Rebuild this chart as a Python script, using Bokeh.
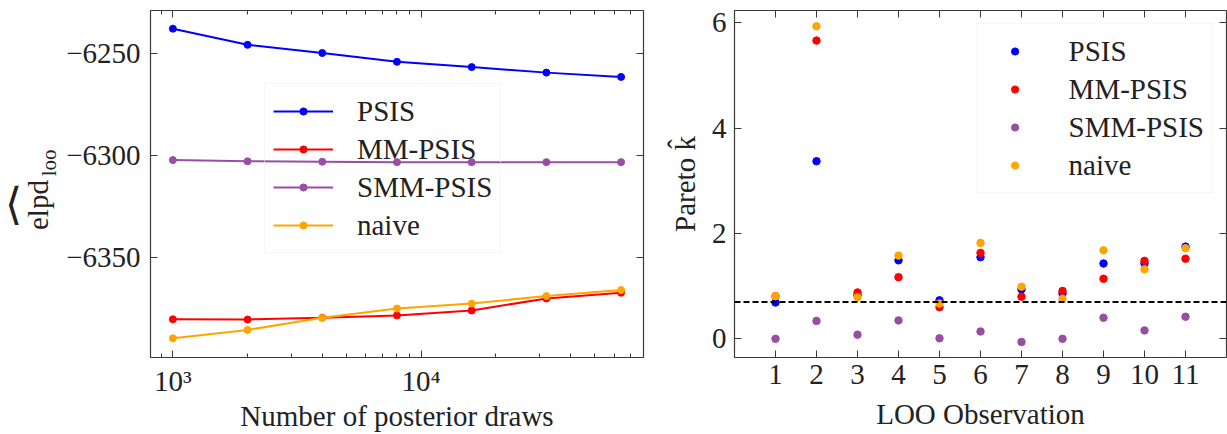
import math
from bokeh.plotting import figure
from bokeh.models import (LinearAxis, LogAxis, Span, Label, Legend, LegendItem,
                          FixedTicker, Range1d)
from bokeh.layouts import row
from bokeh.embed import file_html
from bokeh.resources import INLINE

# ---------------- data ----------------
SERIES = ["PSIS", "MM-PSIS", "SMM-PSIS", "naive"]
COLORS = ["#0000ff", "#ff0000", "#984ea3", "#ffa500"]

DRAWS = [1000, 2000, 4000, 8000, 16000, 32000, 64000]
ELPD_PSIS = [-6238.1, -6246.0, -6250.0, -6254.3, -6256.9, -6259.6, -6261.7]
ELPD_MM = [-6380.3, -6380.4, -6379.5, -6378.4, -6376.0, -6370.1, -6367.3]
ELPD_SMM = [-6302.4, -6303.0, -6303.2, -6303.4, -6303.4, -6303.4, -6303.4]
ELPD_NAIVE = [-6389.6, -6385.5, -6379.6, -6375.0, -6372.6, -6368.9, -6366.0]

OBS = [1, 2, 3, 4, 5, 6, 7, 8, 9, 10, 11]
K_PSIS = [0.69, 3.37, 0.83, 1.49, 0.73, 1.55, 0.94, 0.86, 1.43, 1.43, 1.75]
K_MM = [0.81, 5.66, 0.88, 1.17, 0.60, 1.63, 0.80, 0.91, 1.14, 1.48, 1.52]
K_SMM = [0.0, 0.34, 0.08, 0.35, 0.01, 0.14, -0.06, 0.0, 0.40, 0.16, 0.42]
K_NAIVE = [0.81, 5.93, 0.79, 1.58, 0.67, 1.82, 0.99, 0.76, 1.68, 1.32, 1.72]
K_THRESHOLD = 0.7

Y1_TICKS = [-6350, -6300, -6250]
Y1_TICK_LABELS = ["\u22126350", "\u22126300", "\u22126250"]
X1_TICKS = [1000, 10000]
X1_TICK_LABELS = ["10\u00b3", "10\u2074"]
X1_MINOR = [m * 10 ** e for e in (2, 3, 4) for m in range(2, 10)]
Y2_TICKS = [0, 2, 4, 6]

X1_LABEL = "Number of posterior draws"
X2_LABEL = "LOO Observation"
Y1_LABEL_MAIN, Y1_LABEL_SUB, Y1_LABEL_HAT = "elpd", "loo", "\u27e8"
Y2_LABEL = "Pareto k\u0302"

FONT = "Liberation Serif"
FS = "29px"
INK = "#222222"
FRAME = "#3a3a3a"
W0, W1, W2 = 60, 605, 562
H = 434


def style_axis(ax, labels=True):
    ax.major_tick_in = 7
    ax.major_tick_out = 0
    ax.minor_tick_in = 4
    ax.minor_tick_out = 0
    ax.axis_line_color = None
    ax.major_tick_line_color = FRAME
    ax.minor_tick_line_color = FRAME
    ax.major_tick_line_width = 1
    ax.minor_tick_line_width = 1
    ax.major_label_text_font = FONT
    ax.axis_label_text_font = FONT
    ax.axis_label_text_font_size = FS
    ax.axis_label_text_font_style = "normal"
    ax.axis_label_text_color = INK
    if labels:
        ax.major_label_text_color = INK
        ax.major_label_text_font_size = FS
        ax.major_label_standoff = 7
        ax.axis_label_standoff = 0
    else:
        ax.major_label_text_color = None
        ax.major_label_text_font_size = "0px"
        ax.major_label_standoff = 0
        ax.axis_label_standoff = 0


def style_legend(lg):
    lg.label_text_font = FONT
    lg.label_text_font_size = FS
    lg.label_text_color = INK
    lg.glyph_width = 60
    lg.glyph_height = 18
    lg.label_height = 38
    lg.label_standoff = 24
    lg.spacing = 0
    lg.padding = 8
    lg.border_line_color = "#ececec"
    lg.border_line_width = 1
    lg.background_fill_alpha = 0.0


def text(t, x, y, angle=0.0, size=FS, font=FONT, baseline="alphabetic"):
    return Label(x=x, y=y, text=t, angle=angle, text_align="center",
                 text_baseline=baseline, text_font=font,
                 text_font_size=size, text_color=INK)


# ---------------- left panel ----------------
p1 = figure(width=W1, height=H, x_axis_type="log",
            x_range=Range1d(812.5, 78800), y_range=Range1d(-6399.0, -6229.2),
            output_backend="svg", toolbar_location=None,
            min_border_left=90, min_border_right=22,
            min_border_top=10, min_border_bottom=69)
p1.grid.visible = False
p1.outline_line_color = FRAME
p1.outline_line_width = 1.2

xa = p1.xaxis[0]
xa.ticker = FixedTicker(ticks=X1_TICKS, minor_ticks=X1_MINOR)
xa.major_label_overrides = dict(zip(X1_TICKS, X1_TICK_LABELS))
xa.axis_label = X1_LABEL
style_axis(xa)
ya = p1.yaxis[0]
ya.ticker = FixedTicker(ticks=Y1_TICKS, minor_ticks=[])
ya.major_label_overrides = dict(zip(Y1_TICKS, Y1_TICK_LABELS))
style_axis(ya)
ya.major_label_standoff = 10

top1 = LogAxis(ticker=FixedTicker(ticks=X1_TICKS, minor_ticks=X1_MINOR))
style_axis(top1, labels=False)
p1.add_layout(top1, "above")
right1 = LinearAxis(ticker=FixedTicker(ticks=Y1_TICKS, minor_ticks=[]))
style_axis(right1, labels=False)
p1.add_layout(right1, "right")

items1 = []
for name, col, vals in zip(SERIES, COLORS, [ELPD_PSIS, ELPD_MM, ELPD_SMM, ELPD_NAIVE]):
    rl = p1.line(DRAWS, vals, line_color=col, line_width=2)
    rs = p1.scatter(DRAWS, vals, size=7, fill_color=col, line_color=col)
    items1.append(LegendItem(label=name, renderers=[rl, rs]))
lg1 = Legend(items=items1, location=(114, 104))
style_legend(lg1)
p1.add_layout(lg1)

# ---------------- strip with the left y title (shares the y range) ----------------
p0 = figure(width=W0, height=H, x_range=Range1d(0, W0), y_range=p1.y_range,
            output_backend="svg", toolbar_location=None,
            x_axis_location=None, y_axis_location=None, min_border=0)
p0.grid.visible = False
p0.outline_line_color = None
p0.add_layout(text(Y1_LABEL_MAIN, 37, -6324.4, angle=math.pi / 2))
p0.add_layout(text(Y1_LABEL_SUB, 48, -6303.8, angle=math.pi / 2, size="21px"))
p0.add_layout(text(Y1_LABEL_HAT, 13, -6323.7, size="44px", font="DejaVu Sans",
                   baseline="middle"))

# ---------------- right panel ----------------
p2 = figure(width=W2, height=H,
            x_range=Range1d(0, 12), y_range=Range1d(-0.354, 6.23),
            output_backend="svg", toolbar_location=None,
            min_border_left=68, min_border_right=1,
            min_border_top=10, min_border_bottom=69)
p2.grid.visible = False
p2.outline_line_color = FRAME
p2.outline_line_width = 1.2

xb = p2.xaxis[0]
xb.ticker = FixedTicker(ticks=OBS, minor_ticks=[])
xb.axis_label = X2_LABEL
style_axis(xb)
xb.axis_label_standoff = 11
yb = p2.yaxis[0]
yb.ticker = FixedTicker(ticks=Y2_TICKS, minor_ticks=[])
yb.axis_label = Y2_LABEL
style_axis(yb)
yb.major_label_standoff = 8
yb.axis_label_standoff = 8

top2 = LinearAxis(ticker=FixedTicker(ticks=OBS, minor_ticks=[]))
style_axis(top2, labels=False)
p2.add_layout(top2, "above")
right2 = LinearAxis(ticker=FixedTicker(ticks=Y2_TICKS, minor_ticks=[]))
style_axis(right2, labels=False)
p2.add_layout(right2, "right")

items2 = []
for name, col, vals in zip(SERIES, COLORS, [K_PSIS, K_MM, K_SMM, K_NAIVE]):
    rs = p2.scatter(OBS, vals, size=7.5, fill_color=col, line_color=col)
    items2.append(LegendItem(label=name, renderers=[rs]))

p2.add_layout(Span(location=K_THRESHOLD, dimension="width", line_color="black",
                   line_dash="6 3", line_width=2))

lg2 = Legend(items=items2, location="top_right", margin=13)
style_legend(lg2)
p2.add_layout(lg2)

layout = row(p0, p1, p2)
open("out.html", "w").write(file_html(layout, INLINE))
